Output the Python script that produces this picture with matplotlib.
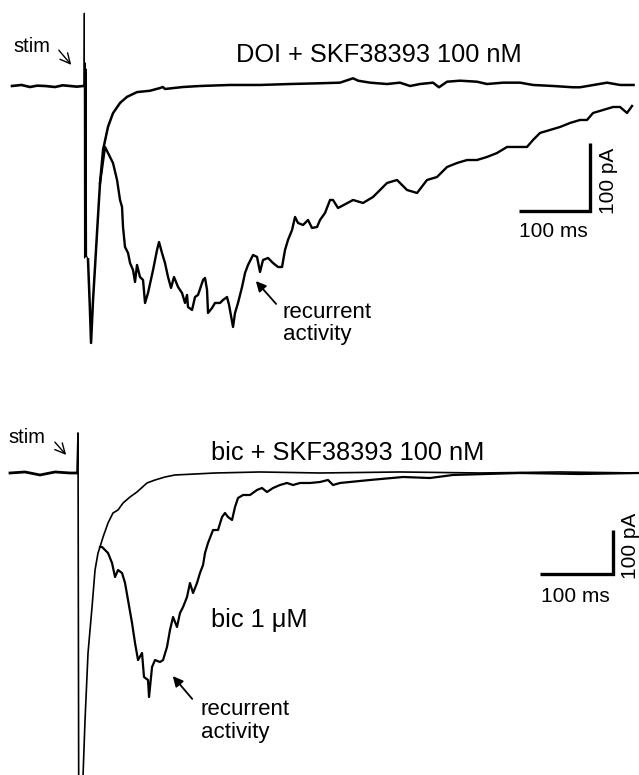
import matplotlib
matplotlib.use("Agg")
import matplotlib.pyplot as plt

plt.rcParams['font.family'] = ['Liberation Sans', 'DejaVu Sans']

# ---------------- data (time in ms relative to stim, current in pA) ----------------
top_ctrl_t = [-101.4, -88.0, -76.0, -66.0, -54.9, -40.8, -30.0, -19.7, -10.0, -1.4,
              0.0, 0.4, 0.8, 1.4, 2.1, 2.8, 3.5, 5.6, 8.0, 9.9,
              12.7, 15.5, 18.3, 22.5, 26.8, 33.8, 40.8, 50.7, 60.5, 74.6,
              92.9, 107.0, 111.0, 114.0, 139.4, 163.3, 205.6, 247.8, 290.0, 332.3,
              360.4, 378.8, 385.8, 402.7, 426.6, 444.9, 459.0, 473.1, 491.4, 499.8,
              511.1, 529.4, 553.3, 567.4, 590.0, 613.9, 632.2, 660.4, 688.5, 698.4,
              736.4, 754.7, 773.8]
top_ctrl_i = [0.0, 1.5, -1.5, 0.5, 0.0, -1.5, 1.0, 0.0, -1.0, 0.0,
              0.0, 107.0, -253.0, 34.0, -251.0, 25.0, -250.0, -255.0, -320.0, -378.0,
              -315.0, -266.0, -216.0, -143.0, -94.0, -60.0, -40.0, -25.0, -16.0, -9.0,
              -7.0, -3.0, -1.5, -4.4, -1.5, 0.0, 1.5, 1.5, 2.9, 4.0,
              4.9, 11.3, 7.8, 4.9, 2.9, 4.9, 0.0, 2.9, 4.9, -1.9,
              6.3, 7.8, 6.3, 2.9, 4.9, 4.9, 1.5, 0.0, -1.9, -1.9,
              4.9, 1.5, 1.5]

top_rec_t = [22.5, 29.6, 33.8, 40.8, 46.5, 50.7, 53.5, 54.9, 57.7, 62.0,
             64.8, 69.0, 71.8, 74.6, 78.8, 83.1, 85.9, 90.1, 97.2, 102.8,
             105.6, 109.8, 114.0, 118.3, 122.5, 126.7, 132.4, 138.0, 142.2, 145.0,
             146.4, 152.1, 156.3, 160.5, 167.6, 170.4, 173.2, 174.6, 180.2, 184.4,
             191.5, 195.7, 201.3, 204.2, 209.8, 212.6, 216.8, 222.5, 226.7, 230.9,
             238.0, 243.6, 247.8, 252.0, 259.1, 266.1, 273.2, 278.8, 283.0, 287.2,
             292.9, 297.1, 301.3, 308.4, 315.4, 321.0, 328.1, 332.3, 339.3, 346.4,
             350.6, 357.6, 360.4, 378.8, 392.8, 406.9, 416.8, 426.6, 440.7, 454.8,
             468.9, 482.9, 497.0, 511.1, 525.2, 539.3, 553.3, 567.4, 581.5, 595.6,
             609.7, 623.7, 632.2, 642.0, 656.1, 670.2, 684.3, 698.4, 708.2, 716.7,
             730.8, 744.8, 754.7, 764.5, 771.6]
top_rec_i = [-143.0, -89.7, -98.6, -113.3, -138.3, -167.7, -178.0, -207.4, -236.8, -245.7,
             -260.4, -270.7, -288.3, -263.3, -281.0, -285.4, -319.2, -304.5, -270.7, -241.2,
             -229.5, -245.7, -260.4, -281.0, -297.1, -281.0, -295.7, -304.5, -319.2, -307.4,
             -325.1, -329.5, -310.4, -307.4, -285.4, -282.4, -300.1, -333.9, -326.6, -319.2,
             -319.2, -314.8, -310.4, -322.1, -354.5, -333.9, -319.2, -295.7, -275.1, -263.3,
             -248.6, -251.5, -273.6, -256.0, -253.0, -260.4, -266.3, -266.3, -241.2, -226.5,
             -211.8, -192.7, -201.5, -204.5, -197.1, -208.9, -207.4, -197.1, -186.8, -167.7,
             -167.7, -179.5, -178.0, -167.7, -172.1, -163.3, -153.0, -142.7, -138.3, -153.0,
             -157.4, -138.3, -133.9, -119.2, -113.3, -108.9, -108.9, -104.4, -98.6, -89.7,
             -89.7, -89.7, -79.4, -69.1, -64.7, -60.3, -54.4, -50.0, -50.0, -39.7,
             -35.3, -30.9, -30.9, -39.7, -29.4]

bot_ctrl_t = [-93.2, -72.6, -52.1, -31.5, -11.0, -1.4,
              0.0, 1.0, 2.7, 5.0, 6.9, 9.6, 13.7, 19.2, 23.3, 27.4,
              30.1, 34.3, 41.1, 47.9, 54.8, 61.7, 71.2, 80.8, 94.5, 105.5,
              119.2, 132.9, 160.3, 187.7, 249.3, 331.5, 441.1, 550.7, 660.3, 768.6]
bot_ctrl_i = [0.0, 2.3, -4.5, 2.3, 0.0, 0.0,
              91.0, -780.0, -811.0, -760.0, -686.5, -561.4, -409.0, -304.6, -220.5, -181.8,
              -168.2, -145.5, -113.7, -90.9, -84.1, -68.2, -54.6, -43.2, -22.7, -15.9,
              -9.1, -4.5, -2.3, 0.0, 2.3, 0.0, 2.3, 0.0, 2.3, 0.0]

bot_bic_t = [30.1, 32.9, 37.0, 41.1, 46.6, 50.7, 54.8, 60.3, 64.4, 68.5,
             74.0, 78.1, 82.2, 87.7, 90.4, 95.9, 97.3, 101.4, 105.5, 112.3,
             116.5, 121.9, 126.0, 130.2, 135.6, 139.7, 143.9, 149.3, 153.4, 157.6,
             163.0, 167.1, 171.3, 174.0, 178.1, 185.0, 191.8, 197.3, 201.4, 205.5,
             211.0, 215.1, 219.2, 226.1, 235.6, 245.2, 252.1, 258.9, 267.2, 276.7,
             286.3, 294.6, 304.1, 317.8, 331.5, 342.5, 349.4, 358.9, 400.0, 445.3,
             482.2, 513.8, 605.5, 687.7, 768.6]
bot_bic_i = [-168.2, -168.2, -175.0, -181.8, -204.6, -236.4, -220.5, -227.3, -250.0, -288.7,
             -341.0, -386.4, -425.1, -409.1, -463.7, -470.5, -509.2, -441.0, -425.1, -429.6,
             -425.1, -395.5, -356.9, -327.3, -350.0, -318.2, -304.6, -281.9, -250.0, -272.8,
             -250.0, -227.3, -209.1, -181.8, -159.1, -129.6, -129.6, -100.0, -90.9, -100.0,
             -106.8, -77.3, -56.8, -50.0, -50.0, -38.6, -34.1, -43.2, -34.1, -27.3,
             -22.7, -27.3, -22.7, -22.7, -20.5, -15.9, -27.3, -22.7, -15.9, -9.1,
             -11.4, -4.5, 0.0, -2.3, 0.0]

scale_ms = 100
scale_pa = 100

# ---------------- figure ----------------
W, H = 639, 775
fig = plt.figure(figsize=(W / 100, H / 100), dpi=100)
fig.patch.set_facecolor('white')


def fx(x):
    return x / W


def fy(y):
    return 1 - y / H


# top panel: pixel rows 0-360
ax1 = fig.add_axes([0, fy(360), 1, 360 / H])
ax1.set_xlim(-118.3, 781.4)
ax1.set_ylim(-403.1, 126.5)
ax1.axis('off')
# stimulus artifact drawn thinner, the rest of the trace bolder
ax1.plot(top_ctrl_t[:11], top_ctrl_i[:11], color='black', lw=1.9, solid_joinstyle='round')
ax1.plot(top_ctrl_t[10:18], top_ctrl_i[10:18], color='black', lw=0.9)
ax1.plot(top_ctrl_t[17:], top_ctrl_i[17:], color='black', lw=1.8, solid_joinstyle='round')
ax1.plot(top_rec_t, top_rec_i, color='black', lw=1.7, solid_joinstyle='round')
# scale bar
sx0, sy0 = 612.5, -183.9
ax1.plot([sx0, sx0 + scale_ms, sx0 + scale_ms], [sy0, sy0, sy0 + scale_pa],
         color='black', lw=2.4, solid_capstyle='butt', solid_joinstyle='miter')

# bottom panel: pixel rows 400-775
ax2 = fig.add_axes([0, 0, 1, 375 / H])
ax2.set_xlim(-106.9, 768.6)
ax2.set_ylim(-686.4, 165.9)
ax2.axis('off')
ax2.plot(bot_ctrl_t[:6], bot_ctrl_i[:6], color='black', lw=2.0, solid_joinstyle='round')
ax2.plot(bot_ctrl_t[5:], bot_ctrl_i[5:], color='black', lw=1.2, solid_joinstyle='round')
ax2.plot(bot_bic_t, bot_bic_i, color='black', lw=1.6, solid_joinstyle='round')
bx0, by0 = 633.0, -229.6
ax2.plot([bx0, bx0 + scale_ms, bx0 + scale_ms], [by0, by0, by0 + scale_pa],
         color='black', lw=2.4, solid_capstyle='butt', solid_joinstyle='miter')

# ---------------- text ----------------
def txt(x, y, s, size, **kw):
    fig.text(fx(x), fy(y), s, fontsize=size, color='black', **kw)


def arrow(x0, y0, x1, y1, style, ms, lw=1.1):
    fig.add_artist(matplotlib.patches.FancyArrowPatch(
        (fx(x0), fy(y0)), (fx(x1), fy(y1)), transform=fig.transFigure,
        arrowstyle=style, mutation_scale=ms, color='black', lw=lw))


# top
txt(13, 52, 'stim', 14.5, ha='left', va='baseline')
arrow(57, 48, 73, 67, '->', 18, 1.0)
txt(236, 62, 'DOI + SKF38393 100 nM', 18.3, ha='left', va='baseline')
txt(283, 318, 'recurrent', 16, ha='left', va='baseline')
txt(283, 340, 'activity', 16, ha='left', va='baseline')
arrow(278, 306, 254, 279, '-|>', 15, 1.3)
txt(553, 237, '100 ms', 15, ha='center', va='baseline')
txt(608, 181, '100 pA', 15, ha='center', va='center', rotation=90)

# bottom
txt(8, 443, 'stim', 14.5, ha='left', va='baseline')
arrow(53, 440, 68, 457, '->', 18, 1.0)
txt(211, 460, 'bic + SKF38393 100 nM', 18.3, ha='left', va='baseline')
txt(211, 627, 'bic 1 μM', 18.3, ha='left', va='baseline')
txt(201, 715, 'recurrent', 16, ha='left', va='baseline')
txt(201, 738, 'activity', 16, ha='left', va='baseline')
arrow(194, 701, 171, 674, '-|>', 15, 1.3)
txt(575, 602, '100 ms', 15, ha='center', va='baseline')
txt(631, 546, '100 pA', 15, ha='center', va='center', rotation=90)

fig.savefig('out.png', dpi=100, facecolor='white')
